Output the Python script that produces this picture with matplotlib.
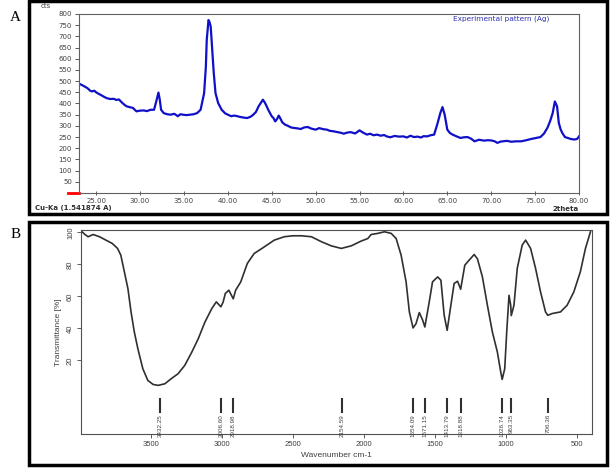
import matplotlib
matplotlib.use("Agg")
import matplotlib.pyplot as plt
from matplotlib.patches import Rectangle
from matplotlib import rcParams

rcParams['font.family'] = 'sans-serif'
rcParams['font.sans-serif'] = ['Liberation Sans', 'DejaVu Sans']

# XRD pattern (panel A)
xrd_2theta = [23.1, 23.5, 24.0, 24.3, 24.5, 24.8, 25.0, 25.3, 25.5, 25.9, 26.2, 26.6,
              27.0, 27.3, 27.6, 27.8, 28.0, 28.3, 28.5, 28.9, 29.2, 29.4, 29.6, 30.0,
              30.4, 30.8, 31.2, 31.6, 31.9, 32.1, 32.25, 32.4, 32.7, 33.1, 33.5, 33.9,
              34.1, 34.3, 34.6, 34.9, 35.3, 35.7, 36.1, 36.5, 36.9, 37.3, 37.5, 37.6,
              37.8, 37.9, 38.05, 38.2, 38.4, 38.6, 38.9, 39.3, 39.7, 40.0, 40.4, 40.7,
              41.0, 41.4, 41.8, 42.2, 42.6, 42.9, 43.2, 43.5, 43.8, 44.0, 44.2, 44.4,
              44.6, 45.0, 45.2, 45.4, 45.6, 45.8, 46.0, 46.2, 46.5, 46.8, 47.2, 47.5,
              47.9, 48.3, 48.7, 49.1, 49.5, 50.0, 50.4, 50.9, 51.3, 51.6, 52.0, 52.5,
              52.9, 53.2, 53.6, 54.0, 54.5, 55.0, 55.4, 55.85, 56.2, 56.6, 57.0, 57.4,
              57.8, 58.1, 58.5, 59.0, 59.5, 60.0, 60.4, 60.8, 61.2, 61.6, 62.0, 62.3,
              62.7, 63.1, 63.5, 63.9, 64.2, 64.45, 64.7, 65.0, 65.3, 65.6, 66.0, 66.5,
              66.9, 67.3, 67.7, 68.1, 68.6, 69.2, 69.6, 70.0, 70.4, 70.7, 71.1, 71.5,
              71.8, 72.3, 72.8, 73.4, 73.9, 74.5, 75.0, 75.6, 76.0, 76.4, 76.7, 77.0,
              77.25, 77.5, 77.7, 77.9, 78.1, 78.4, 78.7, 79.1, 79.5, 79.8, 80.0]
xrd_counts = [488, 480, 469, 458, 454, 457, 450, 443, 439, 430, 424, 420,
              421, 416, 418, 410, 402, 392, 387, 383, 380, 372, 365, 368,
              369, 366, 372, 372, 417, 449, 417, 372, 357, 352, 350, 354,
              349, 343, 352, 350, 348, 350, 352, 357, 372, 446, 565, 684,
              773, 766, 744, 654, 536, 446, 402, 372, 356, 350, 343, 346,
              344, 340, 337, 335, 341, 350, 362, 387, 405, 417, 405, 390,
              372, 343, 335, 320, 330, 346, 332, 316, 306, 301, 293, 291,
              289, 286, 293, 295, 288, 283, 290, 285, 283, 278, 276, 272,
              269, 265, 270, 272, 266, 280, 270, 261, 265, 258, 261, 256,
              259, 253, 249, 255, 252, 253, 248, 256, 250, 252, 248, 254,
              253, 258, 261, 313, 357, 384, 350, 283, 268, 261, 254, 246,
              249, 250, 243, 231, 238, 234, 236, 235, 231, 224, 230, 232,
              233, 229, 231, 231, 235, 241, 245, 250, 265, 291, 320, 357,
              409, 387, 313, 285, 268, 250, 246, 241, 239, 242, 253]
xrd_yticks = list(range(50, 801, 50))
xrd_xticks = [25, 30, 35, 40, 45, 50, 55, 60, 65, 70, 75, 80]

# FTIR spectrum (panel B)
ir_wavenumber = [3990, 3962, 3940, 3905, 3860, 3815, 3770, 3733, 3710, 3685, 3660, 3638,
                 3615, 3590, 3555, 3520, 3483, 3448, 3400, 3355, 3307, 3260, 3210, 3165,
                 3118, 3070, 3038, 3006, 2990, 2975, 2950, 2919, 2902, 2866, 2820, 2772,
                 2700, 2630, 2560, 2500, 2440, 2369, 2299, 2229, 2159, 2089, 2019, 1972,
                 1949, 1902, 1855, 1808, 1773, 1738, 1703, 1680, 1654, 1633, 1610, 1586,
                 1571, 1540, 1517, 1481, 1458, 1435, 1414, 1388, 1365, 1341, 1319, 1290,
                 1259, 1224, 1201, 1166, 1131, 1096, 1061, 1037, 1027, 1009, 995, 979,
                 967, 963, 944, 921, 886, 862, 827, 792, 757, 722, 706, 675, 617, 570,
                 523, 477, 441, 406]
ir_transmittance = [101, 98.7, 97.3, 98.7, 97.3, 95.2, 93.1, 90, 85.8, 75.4, 64.9, 50.3,
                    37.8, 27.3, 14.8, 7.5, 5, 4.4, 5.4, 8.6, 11.7, 16.9, 25.3, 33.6,
                    44, 52.4, 56.6, 53.5, 56.5, 61.8, 63.9, 58.5, 63.9, 69.1, 80.6, 86.8,
                    91, 95.2, 97.3, 97.9, 97.9, 97.3, 94.2, 91.6, 90, 91.6, 94.6, 96.2,
                    98.7, 99.4, 100.4, 99.4, 96.2, 85.8, 69.1, 50.3, 40.3, 43, 49.9, 45.1,
                    40.9, 56.6, 69.1, 72.2, 70.1, 48.2, 38.8, 54.5, 68.1, 69.5, 64.5, 79.5,
                    82.7, 86.2, 83.5, 72.2, 54.5, 37.8, 25.3, 12.7, 8.1, 14.8, 37.8, 60.7,
                    54.5, 48, 54.5, 77.5, 92.1, 95.2, 90, 77.5, 62.8, 50.3, 48.2, 49.3, 50.3, 54.5,
                    62.8, 75.4, 90, 100.4]
ir_peaks = [3432.25, 3006.60, 2918.98, 2154.59, 1654.09, 1571.15, 1413.79, 1318.88,
            1026.74, 963.35, 706.36]
ir_yticks = [20, 40, 60, 80, 100]
ir_xticks = [3500, 3000, 2500, 2000, 1500, 1000, 500]

fig = plt.figure(figsize=(6.1, 4.68), dpi=100)

# panel frames
fig.patches.append(Rectangle((0.047, 0.543), 0.948, 0.454, transform=fig.transFigure,
                             fill=False, lw=2.5, ec='black'))
fig.patches.append(Rectangle((0.047, 0.007), 0.948, 0.519, transform=fig.transFigure,
                             fill=False, lw=2.5, ec='black'))
fig.text(0.016, 0.963, 'A', family='Liberation Serif', fontsize=11, va='center')
fig.text(0.018, 0.498, 'B', family='Liberation Serif', fontsize=11, va='center')

# ---- panel A: XRD
ax = fig.add_axes([0.1295, 0.5876, 0.8197, 0.3825])
ax.plot(xrd_2theta, xrd_counts, color='#1010c8', lw=1.6)
ax.set_xlim(23.05, 80.0)
ax.set_ylim(0, 800)
ax.set_xticks(xrd_xticks)
ax.set_xticklabels(['%.2f' % t for t in xrd_xticks], family='DejaVu Sans')
ax.set_yticks(xrd_yticks)
ax.set_yticklabels([str(t) for t in xrd_yticks], family='DejaVu Sans')
for s in ax.spines.values():
    s.set_color('#606060')
    s.set_linewidth(0.8)
ax.tick_params(axis='both', labelsize=5, colors='#404040', length=3, width=0.6, pad=2)
ax.tick_params(axis='x', direction='inout', length=3)
ax.plot([-0.022, 0], [0, 0], transform=ax.transAxes, color='red', lw=2, clip_on=False)
ax.text(0.844, 0.972, 'Experimental pattern (Ag)', transform=ax.transAxes, ha='center',
        va='center', color='#3030b0', fontsize=5.3, family='DejaVu Sans')
fig.text(0.066, 0.987, 'cts', fontsize=5, color='#404040', va='center', family='DejaVu Sans')
fig.text(0.058, 0.556, 'Cu-Ka (1.541874 A)', fontsize=5, color='#303030', va='center',
         weight='bold', family='DejaVu Sans')
fig.text(0.948, 0.553, '2theta', fontsize=5, color='#303030', va='center', ha='right',
         weight='bold', family='DejaVu Sans')

# ---- panel B: FTIR
bx = fig.add_axes([0.1328, 0.0726, 0.8377, 0.4359])
bx.plot(ir_wavenumber, ir_transmittance, color='#303030', lw=1.2)
bx.set_xlim(3990, 395)
bx.set_ylim(-26, 101.5)
bx.set_xticks(ir_xticks)
bx.set_yticks(ir_yticks)
bx.set_yticklabels([str(t) for t in ir_yticks], rotation=90, va='center')
for s in bx.spines.values():
    s.set_color('#505050')
    s.set_linewidth(0.8)
bx.tick_params(axis='both', labelsize=5.5, colors='#404040', length=3, width=0.6, pad=2)
for p in ir_peaks:
    bx.plot([p, p], [-3.8, -12.5], color='#303030', lw=1.5)
    bx.text(p, -13.5, '%.2f' % p, rotation=90, ha='center', va='top', fontsize=4.5,
            color='#404040')
bx.set_ylabel('Transmittance [%]', fontsize=6, color='#404040', labelpad=4)
bx.set_xlabel('Wavenumber cm-1', fontsize=6, color='#404040', labelpad=3)

fig.savefig('out.png', dpi=100)
